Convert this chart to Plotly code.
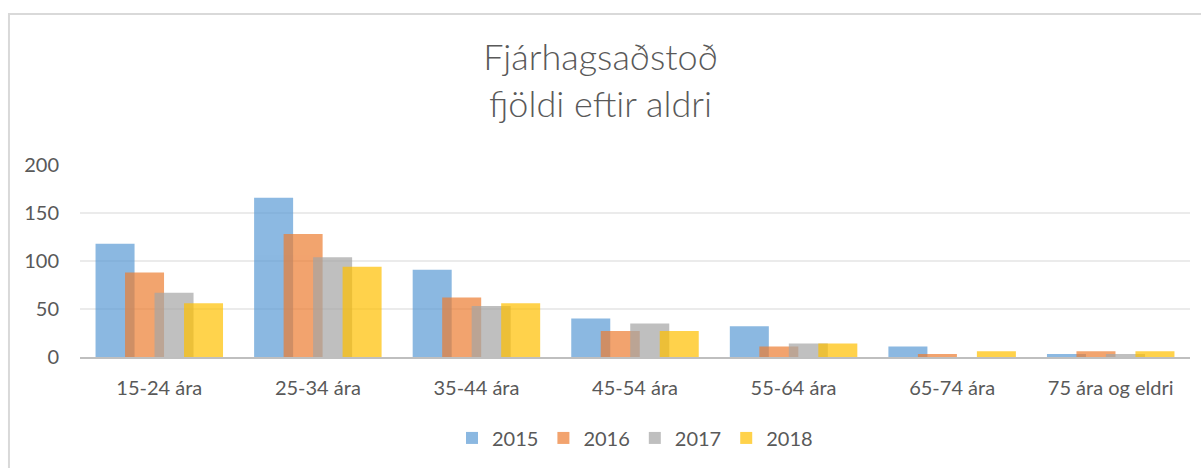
import plotly.graph_objects as go

categories = ["15-24 ára", "25-34 ára", "35-44 ára", "45-54 ára",
              "55-64 ára", "65-74 ára", "75 ára og eldri"]
years = ["2015", "2016", "2017", "2018"]
v2015 = [118, 166, 91, 40, 32, 11, 3]
v2016 = [88, 128, 62, 27, 11, 3, 6]
v2017 = [67, 104, 53, 35, 14, 0, 3]
v2018 = [56, 94, 56, 27, 14, 6, 6]
y_ticks = [0, 50, 100, 150, 200]

colors = ['#5B9BD5', '#ED7D31', '#A5A5A5', '#FFC000']
offsets = [-0.402, -0.216, -0.030, 0.156]

fig = go.Figure()
for name, vals, col, off in zip(years, [v2015, v2016, v2017, v2018], colors, offsets):
    fig.add_trace(go.Bar(
        x=categories, y=vals, name=name,
        marker=dict(color=col, line=dict(width=0)),
        opacity=0.7, width=0.246, offset=off
    ))

# light frame around the chart area (cut at right/bottom like the source)
fig.add_shape(type='rect', xref='paper', yref='paper',
              x0=-0.064, x1=1.05, y0=1.786, y1=-0.8,
              line=dict(color='#D9D9D9', width=2), layer='below')

fig.update_layout(
    barmode='overlay',
    width=1201, height=468,
    margin=dict(l=80, r=11, t=165, b=111),
    plot_bgcolor='white', paper_bgcolor='white',
    font=dict(family='Lato, Open Sans, sans-serif', color='#595959', size=20),
    title=dict(text='Fjárhagsaðstoð<br>fjöldi eftir aldri', x=0.5, xanchor='center',
               y=0.85, yanchor='top',
               font=dict(family='Lato, Open Sans, sans-serif', size=36, color='#595959', weight=300)),
    xaxis=dict(showgrid=False, showline=True, linecolor='#BFBFBF', linewidth=2,
               ticks='', tickfont=dict(size=20), ticklabelstandoff=12),
    yaxis=dict(range=[0, 200], tickvals=y_ticks, gridcolor='#EBEBEB', gridwidth=2,
               zeroline=False, showline=False, ticks='', ticklabelstandoff=20,
               tickfont=dict(size=20)),
    legend=dict(orientation='h', x=0.5, xanchor='center', y=-0.32, yanchor='top',
                font=dict(size=20), itemwidth=30, traceorder='normal'),
)

fig.write_html("out.html", config={'displayModeBar': False},
               post_script="document.body.style.margin='0';")
